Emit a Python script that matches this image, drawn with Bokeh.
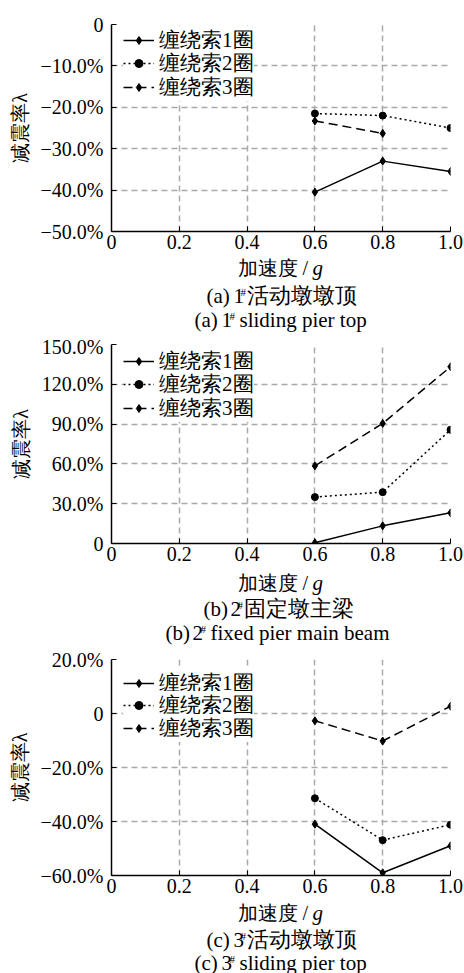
from bokeh.plotting import figure
from bokeh.layouts import column
from bokeh.models import FixedTicker, Label, Legend, LegendItem
from bokeh.embed import file_html
from bokeh.resources import INLINE

# ---------------- data ----------------
accel = [0.6, 0.8, 1.0]
accel_a3 = [0.6, 0.8]

a_loop1 = [-40.5, -33.0, -35.5]
a_loop2 = [-21.5, -22.0, -25.0]
a_loop3 = [-23.3, -26.3]

b_loop1 = [0.5, 13.3, 23.1]
b_loop2 = [35.0, 38.7, 85.7]
b_loop3 = [58.5, 90.5, 133.2]

c_loop1 = [-41.0, -59.0, -49.0]
c_loop2 = [-31.4, -46.9, -41.2]
c_loop3 = [-2.7, -10.2, 2.7]

series_names = ["缠绕索1圈", "缠绕索2圈", "缠绕索3圈"]

x_ticks = [0, 0.2, 0.4, 0.6, 0.8, 1.0]
x_tick_labels = ["0", "0.2", "0.4", "0.6", "0.8", "1.0"]

a_yticks = [-50, -40, -30, -20, -10, 0]
a_ylabels = ["−50.0%", "−40.0%", "−30.0%", "−20.0%", "−10.0%", "0"]
b_yticks = [0, 30, 60, 90, 120, 150]
b_ylabels = ["0", "30.0%", "60.0%", "90.0%", "120.0%", "150.0%"]
c_yticks = [-60, -40, -20, 0, 20]
c_ylabels = ["−60.0%", "−40.0%", "−20.0%", "0", "20.0%"]

y_title = "减震率λ"
x_title = "加速度 /"
x_title_unit = "g"

captions = [
    ("(a)", "1", "活动墩墩顶", "sliding pier top"),
    ("(b)", "2", "固定墩主梁", "fixed pier main beam"),
    ("(c)", "3", "活动墩墩顶", "sliding pier top"),
]

FONT = "Liberation Serif"
W = 464
FRAME_LEFT = 111
LEGEND_FS = 21
LEGEND_ROW_H = 1.325 * LEGEND_FS   # row height Bokeh measures for this font


def make_plot(height, top, bottom, yrange, yticks, ylabels, ys, xs3, row_offsets):
    p = figure(width=W, height=height, x_range=(0, 1.0), y_range=yrange,
               output_backend="svg", toolbar_location=None,
               min_border_left=FRAME_LEFT, min_border_right=14,
               min_border_top=top, min_border_bottom=bottom)
    frame_h = height - top - bottom
    p.outline_line_color = None
    p.background_fill_color = "white"
    p.border_fill_color = "white"

    p.xaxis.ticker = FixedTicker(ticks=x_ticks)
    p.xaxis.major_label_overrides = dict(zip(x_ticks, x_tick_labels))
    p.yaxis.ticker = FixedTicker(ticks=yticks)
    p.yaxis.major_label_overrides = dict(zip(yticks, ylabels))

    for ax in (p.xaxis[0], p.yaxis[0]):
        ax.axis_line_color = "black"
        ax.axis_line_width = 1.5
        ax.major_tick_in = 5
        ax.major_tick_out = 0
        ax.major_tick_line_color = "black"
        ax.major_tick_line_width = 1
        ax.minor_tick_line_color = None
        ax.major_label_text_font = FONT
        ax.major_label_text_font_size = "20px"
        ax.major_label_text_color = "black"
    p.xaxis.major_label_standoff = 3
    p.yaxis.major_label_standoff = 8
    p.yaxis.axis_label = y_title
    p.yaxis.axis_label_text_font = FONT
    p.yaxis.axis_label_text_font_size = "20px"
    p.yaxis.axis_label_text_font_style = "normal"
    p.yaxis.axis_label_text_color = "black"
    p.yaxis.axis_label_standoff = 7

    p.grid.grid_line_color = "#a9a9a9"
    p.grid.grid_line_dash = "6 4"
    p.grid.grid_line_width = 1.5

    s1, s2, s3 = ys
    r1l = p.line(accel, s1, line_color="black", line_width=1.5)
    r1m = p.scatter(accel, s1, marker="diamond", size=8, color="black")
    r2l = p.line(accel, s2, line_color="black", line_width=1.5, line_dash="2 3")
    r2m = p.scatter(accel, s2, marker="circle", size=7, color="black")
    r3l = p.line(xs3, s3, line_color="black", line_width=1.5, line_dash="9 5")
    r3m = p.scatter(xs3, s3, marker="diamond", size=8, color="black")

    groups = [[r1l, r1m], [r2l, r2m], [r3l, r3m]]
    for name, rends, off in zip(series_names, groups, row_offsets):
        vy = frame_h - (off + LEGEND_ROW_H / 2)
        legend = Legend(items=[LegendItem(label=name, renderers=rends)],
                        location=(12, vy))
        legend.label_text_font = FONT
        legend.label_text_font_size = f"{LEGEND_FS}px"
        legend.label_text_color = "black"
        legend.glyph_width = 31
        legend.glyph_height = 20
        legend.label_height = 20
        legend.label_standoff = 5
        legend.spacing = 0
        legend.padding = 0
        legend.margin = 0
        legend.border_line_color = None
        legend.background_fill_color = "white"
        legend.background_fill_alpha = 1.0
        p.add_layout(legend)
    return p


def make_caption(height, page_top, cap, ys_page, line1_start, line2_start):
    # the column aligns this frame with the plots' frames (left edge FRAME_LEFT)
    c = figure(width=W, height=height, x_range=(0, 1), y_range=(0, 1),
               x_axis_type=None, y_axis_type=None,
               output_backend="svg", toolbar_location=None,
               min_border=0, min_border_left=FRAME_LEFT, min_border_right=14,
               min_border_top=0, min_border_bottom=0)
    c.outline_line_color = None
    c.grid.visible = False
    c.background_fill_color = "white"
    c.border_fill_color = "white"

    def lab(px, py, text, size="21px", style="normal", raise_=0):
        x = px - FRAME_LEFT
        y = height - (py - page_top) + raise_
        c.add_layout(Label(x=x, y=y, x_units="screen", y_units="screen",
                           text=text, text_font=FONT, text_font_size=size,
                           text_font_style=style, text_align="left",
                           text_baseline="middle", text_color="black"))

    yx, y1, y2 = ys_page
    lab(237, yx, x_title, size="20px")
    lab(312, yx, x_title_unit, size="21px", style="italic")
    tag, num, cn, en = cap
    s = line1_start
    lab(s, y1, tag)
    lab(s + 27, y1, num)
    lab(s + 34, y1, "#", size="11px", raise_=4)
    lab(s + 40, y1, cn, size="22px")
    s = line2_start
    lab(s, y2, tag)
    lab(s + 27, y2, num)
    lab(s + 35, y2, "#", size="11px", raise_=4)
    lab(s + 45, y2, en)
    return c


p1 = make_plot(257, 24, 26, (-50, 0), a_yticks, a_ylabels,
               (a_loop1, a_loop2, a_loop3), accel_a3, (16, 39.5, 63.5))
c1 = make_caption(78, 257, captions[0], (267.5, 295, 319), 206, 194)

p2 = make_plot(234, 9, 26, (0, 150), b_yticks, b_ylabels,
               (b_loop1, b_loop2, b_loop3), accel, (17, 40.5, 64))
c2 = make_caption(76, 569, captions[1], (582, 608, 632), 203, 165)

p3 = make_plot(256, 14, 26, (-60, 20), c_yticks, c_ylabels,
               (c_loop1, c_loop2, c_loop3), accel, (23.7, 45.8, 69))
c3 = make_caption(72, 901, captions[2], (912, 939, 962), 206, 194)

layout = column(p1, c1, p2, c2, p3, c3, spacing=0)

open("out.html", "w").write(file_html(layout, INLINE))
